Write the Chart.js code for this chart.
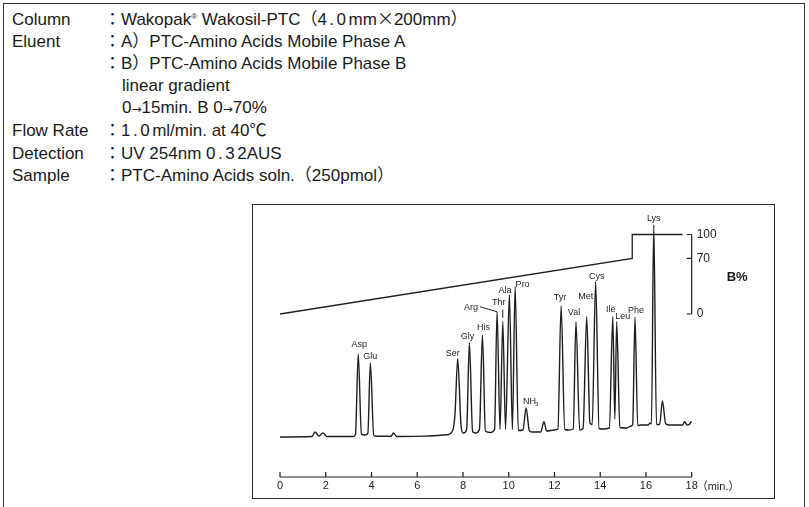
<!DOCTYPE html>
<html lang="ja">
<head>
<meta charset="UTF-8">
<title>PTC-Amino Acids</title>
<script src="https://cdn.jsdelivr.net/npm/chart.js"></script>
<style>
    body { margin: 0; width: 809px; height: 507px; overflow: hidden; background: #fff;
           font-family: "Liberation Sans", "Noto Sans CJK JP", sans-serif; color: #1a1a1a; }
    .frame { position: absolute; left: 3px; top: 3px; width: 802px; height: 540px;
             border: 1.6px solid #333; box-sizing: border-box; }
    .hdr { position: absolute; left: 12px; top: 6px; font-size: 17px; line-height: 22.1px; }
    .row { white-space: nowrap; }
    .k { display: inline-block; width: 92px; }
    .ind { padding-left: 110px; }
    .sp { letter-spacing: 2.5px; }
    .cjk { font-family: "Noto Sans CJK JP"; }
    .arr { font-family: "DejaVu Sans"; font-size: 12px; }
    sup { font-size: 8px; vertical-align: 6px; }
    .box { position: absolute; left: 252px; top: 204px; width: 523px; height: 295px;
           border: 1.6px solid #2a2a2a; box-sizing: border-box; }
    #chrom { position: absolute; left: 254px; top: 206px; }
</style>
</head>
<body>
<div class="frame"></div>
<div class="hdr">
    <div class="row"><span class="k">Column</span>：Wakopak<sup>®</sup> Wakosil-PTC（<span class="sp">4.0</span>mm<span class="cjk">×</span>200mm）</div>
    <div class="row"><span class="k">Eluent</span>：A）PTC-Amino Acids Mobile Phase A</div>
    <div class="row"><span class="k"></span>：B）PTC-Amino Acids Mobile Phase B</div>
    <div class="row ind">linear gradient</div>
    <div class="row ind">0<span class="arr">→</span>15min. B 0<span class="arr">→</span>70%</div>
    <div class="row"><span class="k">Flow Rate</span>：<span class="sp">1.0</span>ml/min. at 40℃</div>
    <div class="row"><span class="k">Detection</span>：UV 254nm <span class="sp">0.3</span>2AUS</div>
    <div class="row"><span class="k">Sample</span>：PTC-Amino Acids soln.（250pmol）</div>
</div>
<div class="box"></div>
<canvas id="chrom" width="518" height="290"></canvas>

<script>
// labelled peaks: retention time (min) and height above baseline
const peakNames   = ['Asp', 'Glu', 'Ser', 'Gly', 'His', 'Arg', 'Thr', 'Ala', 'Pro', 'NH3',
                     'Tyr', 'Val', 'Met', 'Cys', 'Ile', 'Leu', 'Phe', 'Lys'];
const peakTimes   = [3.42, 3.95, 7.77, 8.28, 8.85, 9.49, 9.74, 10.03, 10.28, 10.76,
                     12.29, 12.94, 13.41, 13.80, 14.55, 14.72, 15.52, 16.34];
const peakHeights = [33.2, 29.6, 31.3, 37.7, 40.8, 50.1, 46.1, 56.8, 60.1, 11.6,
                     52.4, 46.1, 48.1, 62.1, 48.1, 46.1, 47.9, 84.8];

// small unlabelled peaks
const minorTimes   = [1.53, 1.88, 4.96, 11.54, 16.72, 17.69, 17.98];
const minorHeights = [2.0, 1.6, 1.6, 6.1, 14.4, 6.1, 6.1];

// baseline / valley points of the trace
const baseTimes   = [0, 1.40, 1.70, 2.05, 3.20, 3.30, 3.56, 3.70, 3.84, 4.10, 4.25, 4.85, 5.10,
                     6.50, 7.30, 7.55, 7.65, 7.92, 8.02, 8.16, 8.42, 8.55, 8.72, 8.98, 9.20, 9.38,
                     9.62, 9.86, 10.16, 10.42, 10.62, 10.90, 11.00, 11.40, 11.66, 12.00, 12.15,
                     12.45, 12.62, 12.82, 13.10, 13.25, 13.55, 13.65, 13.95, 14.10, 14.40, 14.64,
                     14.86, 15.15, 15.35, 15.42, 15.64, 15.80, 16.10, 16.18, 16.24, 16.46, 16.60,
                     16.86, 17.00, 17.50, 17.60, 17.80, 17.90, 18.15];
const baseSignals = [0, 0.2, 0.4, 0.2, 0.2, 1.0, 1.2, 0.8, 1.4, 0.6, 0.3, 0.3, 0.2,
                     0.4, 0.9, 2.6, 9.0, 4.0, 1.6, 3.0, 2.2, 1.6, 3.0, 2.4, 1.8, 3.0,
                     3.0, 3.2, 3.0, 2.6, 2.8, 2.6, 2.0, 2.0, 2.4, 2.8, 3.2,
                     3.0, 2.8, 3.2, 2.8, 3.4, 5.6, 5.0, 3.4, 3.2, 3.6, 7.2,
                     3.8, 3.6, 4.4, 5.0, 4.6, 4.8, 4.8, 5.6, 5.2, 5.0, 5.0,
                     5.4, 4.8, 4.8, 4.8, 4.8, 5.0, 4.4];

// gradient programme (B %)
const gradTimes = [0, 15.4, 15.4, 17.6];
const gradB     = [0, 70, 100, 100];

const timeTicks = [0, 2, 4, 6, 8, 10, 12, 14, 16, 18];
const bTicks    = [0, 70, 100];

// label offsets from the apex, in px
const labelPos = {
    Asp: [1, -9], Glu: [0, -6], Ser: [-5, -5], Gly: [-2, -6], His: [1, -7],
    Arg: [-26, -4], Thr: [-4, -19], Ala: [-4.5, -4], Pro: [7.5, -2], NH3: [4, -6],
    Tyr: [-1, -8], Val: [-2, -9.5], Met: [-1, -20], Cys: [1, -5], Ile: [-2, -7],
    Leu: [6, -5], Phe: [1, -7], Lys: [0, -6]
};

const trace = [];
peakTimes.forEach((t, i) => trace.push({x: t, y: peakHeights[i]}));
minorTimes.forEach((t, i) => trace.push({x: t, y: minorHeights[i]}));
baseTimes.forEach((t, i) => trace.push({x: t, y: baseSignals[i]}));
trace.sort((a, b) => a.x - b.x);

const gradient = gradTimes.map((t, i) => ({x: t, y: gradB[i]}));

const INK = '#1e1e1e';

const decor = {
    id: 'decor',
    afterDatasetsDraw(chart) {
        const ctx = chart.ctx;
        const xs = chart.scales.x, ys = chart.scales.y, yb = chart.scales.yB;
        const bottom = chart.chartArea.bottom;
        ctx.save();
        ctx.strokeStyle = INK;
        ctx.fillStyle = INK;
        ctx.lineWidth = 1.2;

        // time axis with upward ticks
        ctx.beginPath();
        ctx.moveTo(xs.getPixelForValue(timeTicks[0]), bottom);
        ctx.lineTo(xs.getPixelForValue(timeTicks[timeTicks.length - 1]), bottom);
        timeTicks.forEach(t => {
            const px = xs.getPixelForValue(t);
            ctx.moveTo(px, bottom);
            ctx.lineTo(px, bottom - 5);
        });
        ctx.stroke();
        ctx.font = '11px "Liberation Sans", "Noto Sans CJK JP"';
        ctx.textBaseline = 'middle';
        ctx.textAlign = 'left';
        ctx.fillText('（min.）', xs.getPixelForValue(18) + 5, bottom + 9.5);

        // B% scale
        const bx = xs.getPixelForValue(18);
        ctx.beginPath();
        ctx.moveTo(bx, yb.getPixelForValue(bTicks[0]));
        ctx.lineTo(bx, yb.getPixelForValue(bTicks[bTicks.length - 1]));
        bTicks.forEach(v => {
            const py = yb.getPixelForValue(v);
            ctx.moveTo(bx - 5, py);
            ctx.lineTo(bx, py);
        });
        ctx.stroke();
        ctx.font = '12px "Liberation Sans"';
        bTicks.forEach(v => ctx.fillText(String(v), bx + 5, yb.getPixelForValue(v)));
        ctx.font = 'bold 13px "Liberation Sans"';
        ctx.fillText('B%', bx + 35, (yb.getPixelForValue(0) + yb.getPixelForValue(100)) / 2 + 3);

        // peak names
        ctx.textAlign = 'center';
        ctx.lineWidth = 1;
        peakNames.forEach((name, i) => {
            const px = xs.getPixelForValue(peakTimes[i]);
            const py = ys.getPixelForValue(peakHeights[i]);
            const [dx, dy] = labelPos[name];
            const lx = px + dx, ly = py + dy;
            if (name === 'NH3') {
                ctx.font = '9px "Liberation Sans"';
                ctx.textAlign = 'left';
                ctx.fillText('NH', lx - 7, ly);
                ctx.font = '6px "Liberation Sans"';
                ctx.fillText('3', lx + 5, ly + 2);
                ctx.textAlign = 'center';
            } else {
                ctx.font = '9px "Liberation Sans"';
                ctx.fillText(name, lx, ly);
            }
            if (name === 'Arg') {
                ctx.beginPath();
                ctx.moveTo(lx + 9, ly - 1);
                ctx.lineTo(px, py);
                ctx.stroke();
            }
            if (name === 'Thr') {
                ctx.beginPath();
                ctx.moveTo(px, py - 12);
                ctx.lineTo(px, py - 4);
                ctx.stroke();
            }
        });
        ctx.restore();
    }
};

new Chart(document.getElementById('chrom'), {
    type: 'line',
    data: {
        datasets: [
            {
                data: trace,
                yAxisID: 'y',
                borderColor: INK,
                borderWidth: 1.4,
                pointRadius: 0,
                cubicInterpolationMode: 'monotone'
            },
            {
                data: gradient,
                yAxisID: 'yB',
                borderColor: INK,
                borderWidth: 1.3,
                pointRadius: 0,
                tension: 0
            }
        ]
    },
    options: {
        responsive: false,
        animation: false,
        layout: { padding: { left: 26, right: 80.3, top: 1, bottom: 0 } },
        plugins: { legend: { display: false }, tooltip: { enabled: false } },
        scales: {
            x: {
                type: 'linear',
                min: 0,
                max: 18,
                afterBuildTicks: s => { s.ticks = timeTicks.map(v => ({value: v})); },
                afterFit: s => { s.height = 19; },
                grid: { display: false, drawTicks: false },
                border: { display: false },
                ticks: { padding: 2, color: INK, font: { size: 11, family: '"Liberation Sans"' } }
            },
            y: { display: false, min: -16, max: 92 },
            yB: { display: false, min: -205, max: 134.6 }
        }
    },
    plugins: [decor]
});
</script>
</body>
</html>
